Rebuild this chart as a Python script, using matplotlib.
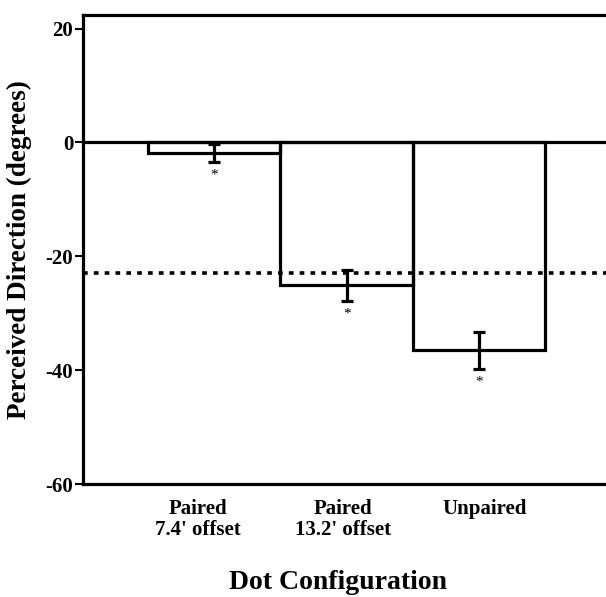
import numpy as np
import matplotlib
matplotlib.use("Agg")
import matplotlib.pyplot as plt

# === данные ===
categories = ["Paired\n7.4' offset", "Paired\n13.2' offset", "Unpaired"]
means = [-1.8, -25.1, -36.5]
errors = [1.6, 2.7, 3.2]
reference_level = -23.0
y_ticks = [-60, -40, -20, 0, 20]

plt.rcParams["font.family"] = ["Liberation Serif", "DejaVu Serif"]
plt.rcParams["axes.unicode_minus"] = False

fig = plt.figure(figsize=(6.06, 5.97), dpi=100)
ax = fig.add_axes([0.137, 0.189, 0.87, 0.786])

x = np.arange(len(categories))
ax.bar(x, means, width=1.0, fill=False, edgecolor="black", linewidth=2.3)
ax.errorbar(x, means, yerr=errors, fmt="none", ecolor="black",
            elinewidth=2.3, capsize=4.5, capthick=2.3)
for xi, m, e in zip(x, means, errors):
    ax.text(xi, m - e - 2.4, "*", ha="center", va="center", fontsize=11)

ax.axhline(0, color="black", linewidth=2.3)
ax.axhline(reference_level, color="black", linewidth=2.6,
           linestyle=(0, (1.3, 1.7)))

ax.set_xlim(-0.99, 2.99)
ax.set_ylim(-60, 22.4)
ax.set_yticks(y_ticks)
ax.set_yticklabels([str(t) for t in y_ticks], fontsize=15, fontweight="bold")
ax.set_xticks([-0.12, 0.97, 2.04])
ax.set_xticklabels(categories, fontsize=15, fontweight="bold",
                   linespacing=1.05)
ax.tick_params(axis="x", length=0, pad=11)
ax.tick_params(axis="y", length=6, width=1.5, pad=1)

for s in ax.spines.values():
    s.set_linewidth(2.3)

ax.set_ylabel("Perceived Direction (degrees)", fontsize=19.5,
              fontweight="bold")
ax.yaxis.set_label_coords(-0.097, 0.5)
ax.set_xlabel("Dot Configuration", fontsize=20, fontweight="bold")
ax.xaxis.set_label_coords(0.484, -0.183)

fig.savefig("out.png", dpi=100)
